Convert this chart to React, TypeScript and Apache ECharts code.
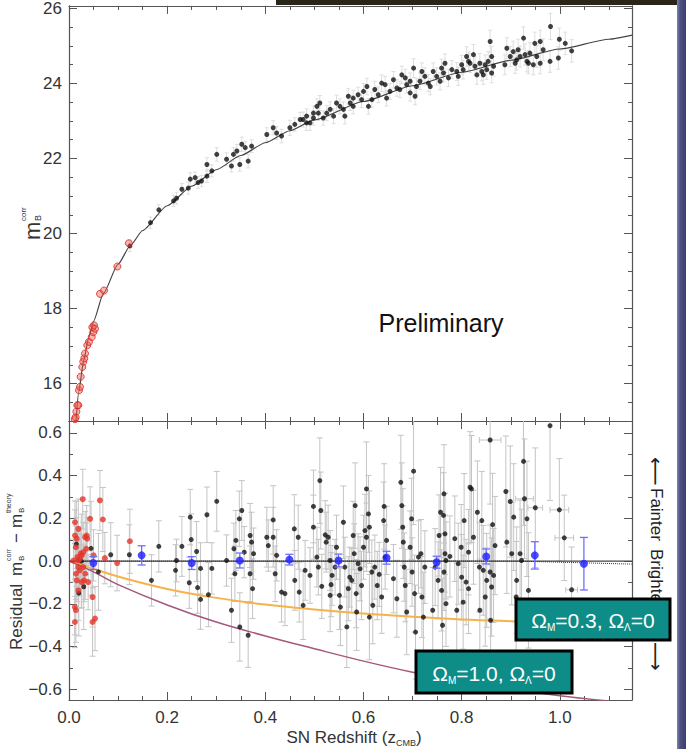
import React, { useEffect, useRef } from "react";
import * as echarts from "echarts";

// ---------- data ----------
const topCurve = [
  [0.0143, 15.0], [0.02, 15.8], [0.03, 16.62], [0.04, 17.22], [0.05, 17.66], [0.07, 18.4], [0.1, 19.18],
  [0.125, 19.68], [0.15, 20.08], [0.2, 20.74], [0.25, 21.26], [0.3, 21.7], [0.35, 22.08], [0.4, 22.42],
  [0.45, 22.74], [0.5, 23.03], [0.6, 23.52], [0.7, 23.94], [0.8, 24.3], [0.9, 24.62], [1.0, 24.92],
  [1.1, 25.18], [1.147, 25.29],
];

const topRed = [
  [0.012, 15.05], [0.0135, 15.1], [0.015, 15.25], [0.017, 15.42], [0.019, 15.42], [0.0204, 15.82],
  [0.0224, 15.91], [0.0238, 16.18], [0.0271, 16.44], [0.0291, 16.58], [0.0312, 16.67], [0.0326, 16.8],
  [0.0373, 17.02], [0.0407, 17.11], [0.0462, 17.24], [0.0495, 17.37], [0.0475, 17.5], [0.051, 17.55],
  [0.053, 17.46], [0.0632, 18.39], [0.0713, 18.48], [0.0985, 19.12], [0.122, 19.74],
];

// [z, m, error]
const topBlack = [
  [0.124, 19.67, 0.15], [0.166, 20.29, 0.15], [0.183, 20.63, 0.14], [0.213, 20.87, 0.15], [0.219, 20.94, 0.16],
  [0.23, 21.18, 0.15], [0.243, 21.21, 0.16], [0.247, 21.45, 0.17], [0.257, 21.49, 0.15], [0.263, 21.36, 0.16],
  [0.27, 21.4, 0.15], [0.281, 21.53, 0.17], [0.281, 21.84, 0.18], [0.291, 21.67, 0.16], [0.301, 22.11, 0.18],
  [0.321, 21.98, 0.17], [0.331, 21.8, 0.16], [0.335, 22.11, 0.18], [0.342, 22.2, 0.17], [0.348, 21.84, 0.18],
  [0.352, 22.38, 0.19], [0.359, 22.29, 0.17], [0.365, 21.93, 0.18], [0.372, 22.33, 0.17], [0.403, 22.64, 0.18],
  [0.416, 22.82, 0.19], [0.423, 22.68, 0.17], [0.433, 22.6, 0.18], [0.45, 22.82, 0.2], [0.46, 22.91, 0.18],
  [0.471, 23.04, 0.19], [0.484, 22.95, 0.2], [0.498, 23.08, 0.19], [0.508, 23.21, 0.2],
  [0.477, 23.04, 0.2], [0.498, 23.21, 0.19], [0.511, 23.48, 0.2], [0.518, 23.08, 0.19], [0.532, 23.31, 0.2],
  [0.552, 23.39, 0.2], [0.562, 23.13, 0.21], [0.573, 23.48, 0.2], [0.579, 23.61, 0.21], [0.589, 23.7, 0.2],
  [0.607, 23.92, 0.22], [0.61, 23.39, 0.21], [0.617, 23.57, 0.2], [0.63, 23.7, 0.21], [0.644, 23.97, 0.22],
  [0.654, 23.79, 0.21], [0.668, 23.88, 0.22], [0.678, 24.23, 0.23], [0.688, 23.97, 0.22], [0.695, 23.75, 0.22],
  [0.702, 24.41, 0.25], [0.705, 23.66, 0.23], [0.715, 24.06, 0.22], [0.725, 24.19, 0.23], [0.736, 23.92, 0.22],
  [0.749, 24.19, 0.23], [0.759, 24.41, 0.24], [0.766, 24.54, 0.25], [0.773, 24.15, 0.23], [0.79, 24.32, 0.24],
  [0.8, 24.5, 0.25], [0.81, 24.72, 0.26], [0.817, 24.54, 0.25], [0.824, 24.77, 0.27], [0.831, 24.23, 0.25],
  [0.841, 24.32, 0.25], [0.848, 24.5, 0.26], [0.858, 25.12, 0.3], [0.861, 24.72, 0.27], [0.865, 24.46, 0.26],
  [0.888, 24.5, 0.27], [0.892, 24.94, 0.28], [0.905, 24.85, 0.28], [0.912, 24.63, 0.27], [0.919, 24.72, 0.28],
  [0.926, 25.21, 0.3], [0.933, 24.59, 0.28], [0.939, 24.81, 0.28], [0.946, 24.5, 0.27], [0.949, 25.07, 0.3],
  [0.96, 25.12, 0.3], [0.96, 24.54, 0.28], [0.98, 24.59, 0.29], [0.981, 25.52, 0.35], [0.997, 24.68, 0.3],
  [0.999, 25.18, 0.3], [1.011, 25.07, 0.3], [1.024, 24.87, 0.3],
  [0.484, 23.13, 0.19], [0.491, 22.95, 0.2], [0.505, 23.39, 0.2], [0.525, 23.21, 0.2], [0.539, 23.13, 0.2],
  [0.545, 23.48, 0.21], [0.559, 23.31, 0.2], [0.569, 23.66, 0.21], [0.579, 23.39, 0.2], [0.596, 23.57, 0.21],
  [0.6, 23.79, 0.21], [0.623, 23.84, 0.22], [0.637, 24.01, 0.22], [0.647, 23.61, 0.21], [0.661, 24.1, 0.22],
  [0.674, 23.84, 0.22], [0.685, 24.15, 0.23], [0.695, 24.06, 0.22], [0.708, 23.92, 0.22], [0.719, 24.32, 0.23],
  [0.732, 24.01, 0.23], [0.742, 24.32, 0.23], [0.756, 24.06, 0.23], [0.763, 24.28, 0.24], [0.78, 24.37, 0.24],
  [0.793, 24.19, 0.24], [0.803, 24.37, 0.25], [0.814, 24.59, 0.25], [0.827, 24.46, 0.25], [0.837, 24.54, 0.26],
  [0.844, 24.23, 0.25], [0.851, 24.37, 0.26], [0.854, 24.59, 0.26], [0.861, 24.28, 0.26], [0.899, 24.72, 0.27],
  [0.909, 24.54, 0.27], [0.915, 24.9, 0.28], [0.929, 24.77, 0.28], [0.936, 24.54, 0.28], [0.953, 24.72, 0.29],
  [0.966, 24.9, 0.29],
];

// residuals [z, r, error, xError?]
const residRed = [
  [0.0122, 0.182, 0.1], [0.0122, 0.12, 0.12], [0.0156, 0.105, 0.1], [0.019, 0.151, 0.14], [0.014, 0.065, 0.1],
  [0.017, 0.019, 0.12], [0.019, 0.003, 0.1], [0.022, 0.011, 0.15], [0.024, 0.035, 0.12], [0.026, 0.027, 0.1],
  [0.029, 0.042, 0.14], [0.028, 0.29, 0.14], [0.014, -0.059, 0.12], [0.016, -0.09, 0.1], [0.012, -0.215, 0.13],
  [0.014, -0.23, 0.15], [0.012, -0.285, 0.12], [0.019, -0.137, 0.14], [0.026, -0.098, 0.12], [0.031, -0.09, 0.1],
  [0.033, 0.112, 0.12], [0.036, 0.12, 0.14], [0.037, 0.105, 0.1], [0.035, 0.058, 0.12], [0.039, -0.098, 0.13],
  [0.043, 0.198, 0.15], [0.05, 0.027, 0.12], [0.048, -0.168, 0.14], [0.048, -0.285, 0.16], [0.053, -0.269, 0.15],
  [0.063, 0.284, 0.14], [0.069, 0.195, 0.15], [0.073, 0.014, 0.12], [0.098, -0.009, 0.13], [0.124, 0.093, 0.15],
  [0.019, -0.028, 0.1], [0.022, -0.043, 0.12], [0.029, -0.028, 0.1], [0.009, 0.003, 0.1], [0.033, -0.059, 0.12],
];

const residBlack = [
  [0.02, -0.15, 0.2], [0.025, 0.0, 0.22], [0.015, 0.08, 0.2], [0.03, -0.12, 0.2], [0.045, 0.06, 0.22],
  [0.06, -0.05, 0.18], [0.085, 0.03, 0.15],
  [0.123, 0.03, 0.14], [0.168, -0.09, 0.12], [0.183, 0.069, 0.12], [0.217, -0.043, 0.12], [0.219, 0.003, 0.1],
  [0.23, 0.069, 0.14], [0.247, 0.206, 0.13], [0.249, 0.101, 0.12], [0.245, -0.101, 0.12], [0.26, 0.045, 0.14],
  [0.262, -0.124, 0.12], [0.268, -0.179, 0.14], [0.268, -0.034, 0.12], [0.281, 0.217, 0.13], [0.284, -0.157, 0.15],
  [0.291, -0.034, 0.12], [0.301, 0.28, 0.14], [0.321, 0.003, 0.12], [0.331, -0.23, 0.15], [0.336, 0.058, 0.12],
  [0.338, -0.059, 0.13], [0.34, 0.097, 0.14], [0.347, 0.198, 0.13], [0.348, -0.308, 0.16], [0.352, 0.237, 0.14],
  [0.357, 0.042, 0.12], [0.365, -0.347, 0.15], [0.369, 0.12, 0.15], [0.372, 0.089, 0.14], [0.369, -0.059, 0.13],
  [0.374, -0.129, 0.14], [0.376, 0.035, 0.12],
  [0.403, 0.112, 0.14], [0.406, 0.073, 0.12], [0.416, 0.193, 0.16], [0.416, 0.112, 0.14], [0.42, -0.059, 0.13],
  [0.423, 0.027, 0.12], [0.433, -0.145, 0.14], [0.44, -0.152, 0.15], [0.459, 0.151, 0.16], [0.46, -0.09, 0.14],
  [0.467, 0.112, 0.15], [0.469, -0.145, 0.14], [0.477, -0.207, 0.16], [0.481, -0.043, 0.14], [0.491, -0.067, 0.13],
  [0.498, 0.256, 0.17], [0.498, 0.159, 0.15], [0.505, 0.019, 0.14], [0.508, -0.028, 0.13], [0.511, 0.377, 0.2],
  [0.513, 0.237, 0.18], [0.515, -0.118, 0.15], [0.522, 0.123, 0.16], [0.524, 0.089, 0.14], [0.528, 0.112, 0.15],
  [0.532, 0.003, 0.14], [0.534, -0.11, 0.15], [0.532, -0.16, 0.17], [0.536, -0.067, 0.14], [0.542, -0.028, 0.13],
  [0.545, 0.065, 0.15], [0.551, -0.16, 0.16], [0.553, -0.215, 0.18], [0.559, 0.182, 0.17], [0.562, -0.028, 0.14],
  [0.566, -0.308, 0.19], [0.569, -0.129, 0.15], [0.572, -0.075, 0.14], [0.576, -0.09, 0.15], [0.579, 0.12, 0.16],
  [0.581, 0.035, 0.14], [0.583, 0.26, 0.2], [0.585, -0.152, 0.16], [0.586, -0.238, 0.18], [0.589, -0.012, 0.14],
  [0.593, -0.036, 0.15], [0.596, -0.114, 0.16], [0.6, 0.065, 0.15], [0.603, 0.143, 0.17], [0.606, 0.338, 0.22],
  [0.606, 0.112, 0.16], [0.61, 0.221, 0.18], [0.612, 0.159, 0.17], [0.612, -0.262, 0.2], [0.617, -0.051, 0.15],
  [0.619, -0.207, 0.18], [0.623, -0.028, 0.15], [0.628, -0.114, 0.16], [0.632, -0.062, 0.15], [0.637, -0.168, 0.17],
  [0.641, 0.19, 0.18], [0.642, 0.256, 0.2], [0.644, 0.019, 0.15], [0.647, 0.097, 0.16], [0.661, -0.082, 0.16],
  [0.668, -0.176, 0.18], [0.676, 0.369, 0.22], [0.678, 0.26, 0.2], [0.68, 0.159, 0.18], [0.681, 0.089, 0.17],
  [0.683, -0.028, 0.16], [0.685, -0.114, 0.17], [0.688, -0.238, 0.2], [0.695, 0.065, 0.17], [0.698, 0.198, 0.19],
  [0.699, -0.051, 0.16], [0.702, 0.421, 0.25], [0.704, -0.152, 0.18], [0.706, -0.332, 0.22], [0.712, 0.019, 0.17],
  [0.717, 0.035, 0.16], [0.719, -0.168, 0.19], [0.722, -0.262, 0.21], [0.725, -0.028, 0.17], [0.741, -0.23, 0.2],
  [0.746, -0.028, 0.18], [0.752, -0.09, 0.18], [0.754, 0.12, 0.19], [0.757, 0.229, 0.21], [0.759, -0.137, 0.19],
  [0.761, -0.3, 0.22], [0.764, 0.315, 0.23], [0.766, 0.035, 0.18],
  [0.763, 0.214, 0.2], [0.766, 0.128, 0.19], [0.768, 0.003, 0.18], [0.764, -0.051, 0.18], [0.768, -0.199, 0.2],
  [0.776, 0.022, 0.19], [0.786, 0.105, 0.2], [0.79, -0.23, 0.22], [0.793, -0.012, 0.19], [0.799, 0.065, 0.2],
  [0.8, -0.075, 0.2], [0.803, -0.192, 0.22], [0.805, 0.19, 0.22], [0.809, -0.098, 0.2], [0.814, 0.042, 0.2],
  [0.814, -0.129, 0.21], [0.817, 0.346, 0.26], [0.82, 0.338, 0.25], [0.824, 0.112, 0.22], [0.832, 0.229, 0.24],
  [0.836, -0.028, 0.21], [0.837, -0.23, 0.24], [0.841, 0.19, 0.23], [0.844, -0.043, 0.21], [0.848, -0.168, 0.23],
  [0.851, -0.09, 0.22], [0.858, 0.567, 0.3, 0.022], [0.858, -0.051, 0.22], [0.859, -0.277, 0.26], [0.861, -0.121, 0.23],
  [0.863, 0.171, 0.24], [0.865, -0.067, 0.22], [0.868, 0.073, 0.23], [0.89, 0.326, 0.26], [0.892, 0.089, 0.24],
  [0.899, 0.279, 0.26], [0.902, 0.035, 0.24], [0.906, 0.206, 0.25], [0.911, -0.168, 0.26], [0.912, -0.09, 0.25],
  [0.919, 0.035, 0.25], [0.922, 0.003, 0.24], [0.926, 0.467, 0.3], [0.928, 0.292, 0.28, 0.018], [0.933, 0.198, 0.27],
  [0.936, -0.137, 0.27], [0.95, 0.25, 0.28, 0.015], [0.98, 0.634, 0.35], [0.999, 0.24, 0.24, 0.019],
  [1.009, 0.109, 0.2, 0.019], [1.024, -0.134, 0.2, 0.012],
];

const binned = [
  [0.0495, -0.009, 0.03], [0.148, 0.027, 0.045], [0.25, -0.009, 0.03], [0.348, 0.003, 0.035],
  [0.449, 0.007, 0.025], [0.549, 0.003, 0.03], [0.647, 0.016, 0.03], [0.749, -0.005, 0.028],
  [0.85, 0.022, 0.035], [0.949, 0.027, 0.064], [1.049, -0.012, 0.123],
];

const openLowDensity = [
  [0, 0], [0.05, -0.036], [0.1, -0.072], [0.2, -0.13], [0.3, -0.172], [0.4, -0.203], [0.5, -0.226],
  [0.6, -0.245], [0.7, -0.26], [0.8, -0.273], [0.9, -0.281], [1.0, -0.287], [1.147, -0.293],
];
const openCriticalDensity = [
  [0, 0], [0.05, -0.05], [0.1, -0.11], [0.2, -0.205], [0.3, -0.285], [0.4, -0.35], [0.5, -0.41],
  [0.6, -0.468], [0.7, -0.52], [0.8, -0.565], [0.9, -0.6], [1.0, -0.63], [1.1, -0.655],
];
const zeroLine = [[0, 0], [1.147, 0]];
const dottedFit = [[0, 0], [0.9, 0], [0.95, -0.002], [1.05, -0.008], [1.147, -0.014]];

// ---------- layout / style ----------
const XMAX = 1.147;
const TOP_MIN = 15;
const TOP_MAX = 26.07;
const RES_MIN = -0.65;
const RES_MAX = 0.656;
const FONT = "'Liberation Sans', Arial, Helvetica, sans-serif";
const AXC = "#555";
const LBL = { color: "#333", fontSize: 17, fontFamily: FONT };

const near = (v: number, step: number) => Math.abs(v / step - Math.round(v / step)) < 1e-6;

function xAxes(grid: number, labels: boolean) {
  const base = { type: "value", gridIndex: grid, min: 0, max: XMAX, splitLine: { show: false } };
  const line = { show: true, onZero: false, lineStyle: { color: AXC, width: 1.2 } };
  const noLine = { show: false, onZero: false };
  const major = (pos: string, lab: boolean) => ({
    ...base, position: pos, interval: 0.2, axisLine: line,
    axisTick: { show: true, inside: true, length: 8, lineStyle: { color: AXC } },
    axisLabel: lab
      ? { show: true, ...LBL, margin: 9, formatter: (v: number) => (near(v, 0.2) ? v.toFixed(1) : "") }
      : { show: false },
  });
  const minor = (pos: string) => ({
    ...base, position: pos, interval: 0.05, axisLine: noLine,
    axisTick: { show: true, inside: true, length: 4, lineStyle: { color: AXC } },
    axisLabel: { show: false },
  });
  return [major("bottom", labels), minor("bottom"), major("top", false), minor("top")];
}

function yAxes(grid: number, min: number, max: number, step: number, minorStep: number, fmt: (v: number) => string) {
  const base = { type: "value", gridIndex: grid, min, max, splitNumber: 5, splitLine: { show: false } };
  const line = { show: true, onZero: false, lineStyle: { color: AXC, width: 1.2 } };
  const major = (pos: string, lab: boolean) => ({
    ...base, position: pos, minInterval: step, maxInterval: step, axisLine: line,
    axisTick: { show: true, inside: true, length: 8, lineStyle: { color: AXC } },
    axisLabel: lab ? { show: true, ...LBL, margin: 7, formatter: (v: number) => (near(v, step) ? fmt(v) : "") } : { show: false },
  });
  const minor = (pos: string) => ({
    ...base, position: pos, minInterval: minorStep, maxInterval: minorStep, axisLine: { show: false, onZero: false },
    axisTick: { show: true, inside: true, length: 4, lineStyle: { color: AXC } },
    axisLabel: { show: false },
  });
  return [major("left", true), minor("left"), major("right", false), minor("right")];
}

function errRenderer(data: number[][], color: string, cap: number, width: number) {
  return (params: any, api: any) => {
    const d = data[params.dataIndex];
    const x = d[0], y = d[1], e = d[2], xe = d[3];
    const p1 = api.coord([x, y + e]);
    const p2 = api.coord([x, y - e]);
    const style = { stroke: color, lineWidth: width };
    const ch: any[] = [
      { type: "line", shape: { x1: p1[0], y1: p1[1], x2: p2[0], y2: p2[1] }, style },
      { type: "line", shape: { x1: p1[0] - cap, y1: p1[1], x2: p1[0] + cap, y2: p1[1] }, style },
      { type: "line", shape: { x1: p2[0] - cap, y1: p2[1], x2: p2[0] + cap, y2: p2[1] }, style },
    ];
    if (xe) {
      const l = api.coord([x - xe, y]);
      const r = api.coord([x + xe, y]);
      ch.push({ type: "line", shape: { x1: l[0], y1: l[1], x2: r[0], y2: r[1] }, style });
      ch.push({ type: "line", shape: { x1: l[0], y1: l[1] - cap, x2: l[0], y2: l[1] + cap }, style });
      ch.push({ type: "line", shape: { x1: r[0], y1: r[1] - cap, x2: r[0], y2: r[1] + cap }, style });
    }
    return { type: "group", children: ch };
  };
}

function errSeries(data: number[][], xi: number, yi: number, color: string, cap: number, width: number, z = 1) {
  return {
    type: "custom", xAxisIndex: xi, yAxisIndex: yi, clip: true, z, silent: true,
    renderItem: errRenderer(data, color, cap, width),
    data: data.map((d) => [d[0], d[1]]),
    encode: { x: 0, y: 1 },
  };
}

function boxLabel(x: number, y: number, w: number, h: number, val: string) {
  return {
    type: "group", z: 100,
    children: [
      { type: "rect", z: 100, shape: { x, y, width: w, height: h }, style: { fill: "#0d8c88", stroke: "#000", lineWidth: 3 } },
      {
        type: "text", z: 101, x: x + w / 2, y: y + h / 2 + 1,
        style: {
          text: `{a|Ω}{s|M}{a|=${val}, Ω}{s|Λ}{a|=0}`,
          align: "center", verticalAlign: "middle",
          rich: {
            a: { fontSize: 21, fill: "#fff", fontFamily: FONT, lineHeight: 24 },
            s: { fontSize: 10, fill: "#fff", fontFamily: FONT, verticalAlign: "bottom", lineHeight: 24 },
          },
        },
      },
    ],
  };
}

export default function App() {
  const ref = useRef<HTMLDivElement>(null);
  useEffect(() => {
    if (!ref.current) return;
    const chart = echarts.init(ref.current, undefined, { renderer: "svg" });
    const fmtTop = (v: number) => String(Math.round(v));
    const fmtRes = (v: number) => (v < -1e-9 ? "−" : "") + Math.abs(v).toFixed(1);
    const option: any = {
      animation: false,
      backgroundColor: "#fff",
      grid: [
        { left: 69, top: 5, width: 563, height: 416 },
        { left: 69, top: 421, width: 563, height: 279 },
      ],
      xAxis: [...xAxes(0, false), ...xAxes(1, true)],
      yAxis: [
        ...yAxes(0, TOP_MIN, TOP_MAX, 2, 0.5, fmtTop),
        ...yAxes(1, RES_MIN, RES_MAX, 0.2, 0.1, fmtRes),
      ],
      series: [
        // top panel
        errSeries(topBlack, 0, 0, "#dedede", 2, 1),
        {
          type: "line", xAxisIndex: 0, yAxisIndex: 0, data: topCurve, showSymbol: false, symbol: "none",
          smooth: 0.2, smoothMonotone: "x", lineStyle: { color: "#444", width: 1.2 }, z: 2, silent: true,
        },
        {
          type: "scatter", xAxisIndex: 0, yAxisIndex: 0, data: topBlack.map((d) => [d[0], d[1]]),
          symbolSize: 5, itemStyle: { color: "#111" }, z: 3, silent: true,
        },
        {
          type: "scatter", xAxisIndex: 0, yAxisIndex: 0, data: topRed, symbolSize: 7,
          itemStyle: { color: "rgba(236,90,80,0.55)", borderColor: "#d5261c", borderWidth: 1 }, z: 4, silent: true,
        },
        // residual panel
        errSeries(residBlack, 4, 4, "#c4c4c4", 3, 1),
        errSeries(residRed, 4, 4, "#c4c4c4", 3, 1),
        {
          type: "line", xAxisIndex: 4, yAxisIndex: 4, data: openLowDensity, symbol: "none", smooth: 0.4,
          lineStyle: { color: "#f6b24c", width: 2 }, z: 2, silent: true,
        },
        {
          type: "line", xAxisIndex: 4, yAxisIndex: 4, data: openCriticalDensity, symbol: "none", smooth: 0.4,
          lineStyle: { color: "#a5587c", width: 1.5 }, z: 2, silent: true,
        },
        {
          type: "line", xAxisIndex: 4, yAxisIndex: 4, data: zeroLine, symbol: "none",
          lineStyle: { color: "#444", width: 1.2 }, z: 2, silent: true,
        },
        {
          type: "line", xAxisIndex: 4, yAxisIndex: 4, data: dottedFit, symbol: "none", smooth: 0.3,
          lineStyle: { color: "#333", width: 1, type: "dotted" }, z: 2, silent: true,
        },
        {
          type: "scatter", xAxisIndex: 4, yAxisIndex: 4, data: residBlack.map((d) => [d[0], d[1]]),
          symbolSize: 5, itemStyle: { color: "#111" }, z: 3, silent: true,
        },
        {
          type: "scatter", xAxisIndex: 4, yAxisIndex: 4, data: residRed.map((d) => [d[0], d[1]]),
          symbolSize: 6, itemStyle: { color: "#e5352b" }, z: 4, silent: true,
        },
        errSeries(binned, 4, 4, "#7070ff", 4, 1.3, 5),
        {
          type: "scatter", xAxisIndex: 4, yAxisIndex: 4, data: binned.map((d) => [d[0], d[1]]),
          symbolSize: 8, itemStyle: { color: "#1f1fff" }, z: 6, silent: true,
        },
      ],
      graphic: [
        { type: "rect", z: 90, shape: { x: 276, y: 0, width: 410, height: 5 }, style: { fill: "#2a2419" } },
        {
          type: "rect", z: 90, shape: { x: 677, y: 0, width: 9, height: 749 },
          style: {
            fill: new echarts.graphic.LinearGradient(0, 0, 1, 0, [
              { offset: 0, color: "#7d82ad" },
              { offset: 0.35, color: "#4d5182" },
              { offset: 1, color: "#3b3e6c" },
            ]),
          },
        },
        {
          type: "text", z: 90, x: 441, y: 323,
          style: { text: "Preliminary", fontSize: 25, fontFamily: FONT, fill: "#111", align: "center", verticalAlign: "middle" },
        },
        // right-hand annotations
        { type: "text", z: 90, x: 656, y: 457, rotation: -Math.PI / 2, style: { text: "⟵", fontSize: 20, fontFamily: "'DejaVu Sans'", fill: "#222", align: "left", verticalAlign: "middle" } },
        { type: "text", z: 90, x: 656, y: 488, rotation: -Math.PI / 2, style: { text: "Fainter", fontSize: 17, fontFamily: FONT, fill: "#222", align: "left", verticalAlign: "middle" } },
        { type: "text", z: 90, x: 656, y: 549, rotation: -Math.PI / 2, style: { text: "Brighter", fontSize: 17, fontFamily: FONT, fill: "#222", align: "left", verticalAlign: "middle" } },
        { type: "text", z: 90, x: 656, y: 642, rotation: -Math.PI / 2, style: { text: "⟶", fontSize: 20, fontFamily: "'DejaVu Sans'", fill: "#222", align: "left", verticalAlign: "middle" } },
        // top y title
        {
          type: "group", z: 90, x: 32, y: 240, rotation: Math.PI / 2,
          children: [
            { type: "text", x: 0, y: 0, style: { text: "m", fontSize: 22, fontFamily: FONT, fill: "#333", align: "left", verticalAlign: "middle" } },
            { type: "text", x: 19, y: -9, style: { text: "corr", fontSize: 8, fontFamily: FONT, fill: "#333", align: "left", verticalAlign: "middle" } },
            { type: "text", x: 19, y: 6, style: { text: "B", fontSize: 9, fontFamily: FONT, fill: "#333", align: "left", verticalAlign: "middle" } },
          ],
        },
        // bottom y title
        {
          type: "group", z: 90, x: 16, y: 650, rotation: Math.PI / 2,
          children: [
            { type: "text", x: 0, y: 0, style: { text: "Residual", fontSize: 17, fontFamily: FONT, fill: "#333", align: "left", verticalAlign: "middle" } },
            { type: "text", x: 74, y: 0, style: { text: "m", fontSize: 17, fontFamily: FONT, fill: "#333", align: "left", verticalAlign: "middle" } },
            { type: "text", x: 89, y: -8, style: { text: "corr", fontSize: 7, fontFamily: FONT, fill: "#333", align: "left", verticalAlign: "middle" } },
            { type: "text", x: 89, y: 5, style: { text: "B", fontSize: 8, fontFamily: FONT, fill: "#333", align: "left", verticalAlign: "middle" } },
            { type: "text", x: 107, y: 0, style: { text: "−", fontSize: 17, fontFamily: FONT, fill: "#333", align: "left", verticalAlign: "middle" } },
            { type: "text", x: 122, y: 0, style: { text: "m", fontSize: 17, fontFamily: FONT, fill: "#333", align: "left", verticalAlign: "middle" } },
            { type: "text", x: 137, y: -8, style: { text: "theory", fontSize: 7, fontFamily: FONT, fill: "#333", align: "left", verticalAlign: "middle" } },
            { type: "text", x: 137, y: 5, style: { text: "B", fontSize: 8, fontFamily: FONT, fill: "#333", align: "left", verticalAlign: "middle" } },
          ],
        },
        // x title
        {
          type: "text", z: 90, x: 354, y: 737,
          style: {
            text: "{a|SN Redshift (z}{s|CMB}{a|)}", align: "center", verticalAlign: "middle",
            rich: {
              a: { fontSize: 17, fontFamily: FONT, fill: "#333", lineHeight: 20 },
              s: { fontSize: 9, fontFamily: FONT, fill: "#333", verticalAlign: "bottom", lineHeight: 20 },
            },
          },
        },
        boxLabel(516, 599, 154, 41, "0.3"),
        boxLabel(416, 651, 156, 42, "1.0"),
      ],
    };
    chart.setOption(option);
    return () => chart.dispose();
  }, []);
  return <div ref={ref} style={{ position: "absolute", left: 0, top: 0, width: 686, height: 749 }} />;
}
